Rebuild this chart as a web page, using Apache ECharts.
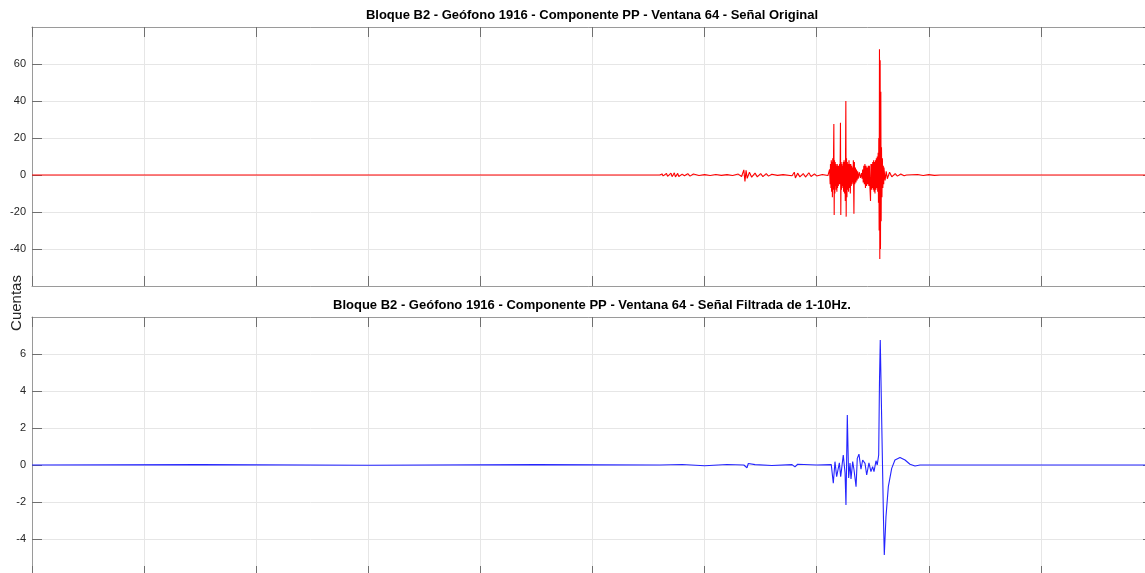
<!DOCTYPE html>
<html>
<head>
<meta charset="utf-8">
<script src="https://cdn.jsdelivr.net/npm/echarts@6/dist/echarts.min.js"></script>
<style>
    html, body { margin: 0; padding: 0; background: #fff; }
    #chart { width: 1145px; height: 573px; }
</style>
</head>
<body>
<div id="chart"></div>
<script type="text/javascript">
    // títulos y rótulos
    var tituloOriginal = "Bloque B2 - Geófono 1916 - Componente PP - Ventana 64 - Señal Original";
    var tituloFiltrada = "Bloque B2 - Geófono 1916 - Componente PP - Ventana 64 - Señal Filtrada de 1-10Hz.";
    var rotuloY = "Cuentas";

    // ejes
    var tiempoMin = 0, tiempoMax = 10, tiempoPaso = 1;
    var originalMin = -60, originalMax = 80, originalPaso = 20;
    var filtradaMin = -6, filtradaMax = 8, filtradaPaso = 2;

    // señal original [tiempo, cuentas]
    var senalOriginal = [
        [0, 0], [5.60, 0],
        [5.62, 0.6], [5.63, -0.5], [5.66, 0.8], [5.67, -0.7], [5.70, 1.0], [5.71, -0.9], [5.73, 1.2], [5.74, -1.0],
        [5.76, 0.9], [5.77, -0.8], [5.80, 0.5], [5.82, -0.4], [5.85, 0.7], [5.87, -0.6], [5.90, 0.5], [5.95, -0.3],
        [6.00, 0.2], [6.05, -0.3], [6.10, 0.3], [6.15, -0.2], [6.20, 0.2], [6.25, -0.3],
        [6.30, 0.5], [6.33, -0.8], [6.35, 2.8], [6.36, -3.5], [6.37, 2.5], [6.38, -1.8], [6.40, 1.5], [6.42, -1.2],
        [6.45, 1.0], [6.47, -1.0], [6.50, 0.8], [6.52, -0.9], [6.55, 0.7], [6.57, -0.6], [6.60, 0.4], [6.65, -0.2],
        [6.70, 0.2], [6.78, -0.4], [6.80, 1.5], [6.81, -1.6], [6.83, 1.0], [6.85, -1.0], [6.88, 0.8], [6.90, -1.1],
        [6.93, 1.2], [6.95, -0.8], [6.98, 0.6], [7.00, -0.5], [7.05, 0.3], [7.10, -0.3],
        [7.115, 3], [7.12, -5], [7.123, 6], [7.127, -7], [7.13, 8], [7.133, -9], [7.137, 7], [7.14, -12],
        [7.143, 9], [7.147, -8], [7.15, 10], [7.153, 27.6], [7.156, -21.6], [7.159, 8], [7.162, -10], [7.165, 7],
        [7.168, -6], [7.171, 6], [7.174, -8], [7.177, 5], [7.18, -9], [7.183, 6], [7.186, -7], [7.19, 5],
        [7.193, -6], [7.197, 5], [7.2, -5], [7.204, 6], [7.208, -5], [7.212, 28.3], [7.215, -21.6], [7.218, 7],
        [7.221, -8], [7.224, 6], [7.227, -7], [7.23, 5], [7.233, -6], [7.237, 7], [7.24, -9], [7.244, 8],
        [7.248, -10], [7.252, 7], [7.255, -14], [7.26, 40], [7.263, -22.5], [7.266, 9], [7.27, -12], [7.273, 7],
        [7.277, -8], [7.28, 6], [7.284, -9], [7.288, 8], [7.292, -7], [7.296, 6], [7.3, -10], [7.304, 6],
        [7.308, -6], [7.312, 5], [7.316, -5], [7.32, 4], [7.324, -4], [7.327, 8], [7.332, -21], [7.336, 7],
        [7.34, -5], [7.345, 4], [7.35, -4], [7.355, 3], [7.36, -3], [7.365, 2], [7.37, -2], [7.38, 1.5],
        [7.39, -1.5], [7.40, 1], [7.405, -2], [7.41, 3], [7.415, -4], [7.42, 5], [7.425, -5], [7.43, 6],
        [7.435, -7], [7.44, 5], [7.445, -6], [7.45, 4], [7.455, -5], [7.46, 5], [7.465, -6], [7.47, 5],
        [7.475, -7], [7.48, -14], [7.484, 6], [7.488, -8], [7.492, 6], [7.496, -7], [7.5, 7], [7.504, -8],
        [7.508, 8], [7.512, -9], [7.516, 7], [7.52, -10], [7.524, 8], [7.528, -8], [7.532, 9], [7.536, -7],
        [7.54, 10], [7.544, -9], [7.548, 12], [7.551, -15], [7.554, 20], [7.557, -30], [7.56, 68], [7.563, -45.4],
        [7.566, 62], [7.569, -40], [7.572, 45], [7.575, -25], [7.578, 15], [7.582, -12], [7.586, 9], [7.59, -7],
        [7.594, 5], [7.598, -5], [7.60, 4], [7.61, -3], [7.62, 2], [7.63, -2], [7.65, 1.5], [7.67, -1],
        [7.70, 0.8], [7.72, -0.6], [7.75, 0.5], [7.78, -0.4], [7.80, 0], [7.90, 0.3], [7.95, -0.3], [8.00, 0.2],
        [8.05, -0.2], [8.10, 0], [10, 0]
    ];

    // señal filtrada 1-10 Hz [tiempo, cuentas]
    var senalFiltrada = [
        [0, 0], [1.5, 0.02], [3.0, -0.01], [4.5, 0.02], [5.6, 0], [5.8, 0.03], [6.0, -0.04], [6.2, 0.03],
        [6.35, 0], [6.378, -0.15], [6.39, 0.08], [6.45, 0.02], [6.6, -0.03], [6.78, 0.02], [6.806, -0.1],
        [6.83, 0.04], [7.0, 0], [7.13, 0.02],
        [7.148, -0.99], [7.163, 0.18], [7.178, -0.63], [7.202, 0.12], [7.214, -0.63], [7.237, 0.54], [7.253, -0.43],
        [7.261, -2.16], [7.273, 2.7], [7.285, -0.7], [7.297, 0.1], [7.306, -0.76], [7.321, 0.18], [7.333, -0.27],
        [7.351, -1.17], [7.362, 0.36], [7.377, 0.59], [7.395, -0.23], [7.410, 0.27], [7.431, 0.09], [7.446, -0.54],
        [7.466, 0.12], [7.484, -0.36], [7.499, -0.09], [7.511, -0.36], [7.529, 0.23], [7.540, 0], [7.553, 0.54],
        [7.560, 4.5], [7.567, 6.76], [7.572, 6.8], [7.576, 6.7], [7.587, 0], [7.596, -3.0], [7.603, -4.86],
        [7.618, -2.8], [7.639, -1.17], [7.669, -0.18], [7.698, 0.27], [7.743, 0.4], [7.788, 0.27], [7.832, 0.04],
        [7.877, -0.05], [7.922, 0], [10, 0]
    ];

    var fuente = '"Liberation Sans", Arial, sans-serif';
    var colorCaja = '#9a9a9a';
    var colorGrilla = '#e6e6e6';

    function ejeX(grid, pos) {
        return {
            type: 'value', gridIndex: grid, position: pos,
            min: tiempoMin, max: tiempoMax, interval: tiempoPaso,
            axisLine: { show: true, onZero: false, lineStyle: { color: colorCaja } },
            axisTick: { show: true, inside: true, length: 10, lineStyle: { color: '#707070' } },
            axisLabel: { show: false },
            splitLine: { show: pos === 'bottom', lineStyle: { color: colorGrilla } }
        };
    }
    function ejeY(grid, pos, min, max, paso) {
        return {
            type: 'value', gridIndex: grid, position: pos,
            min: min, max: max, interval: paso,
            axisLine: { show: true, onZero: false, lineStyle: { color: colorCaja } },
            axisTick: { show: true, inside: true, length: 10, lineStyle: { color: '#707070' } },
            axisLabel: {
                show: pos === 'left', margin: 6, showMinLabel: false, showMaxLabel: false,
                color: '#262626', fontSize: 11, fontFamily: fuente
            },
            splitLine: { show: pos === 'left', lineStyle: { color: colorGrilla } }
        };
    }

    var myChart = echarts.init(document.getElementById('chart'));
    var option = {
        animation: false,
        backgroundColor: '#ffffff',
        grid: [
            { left: 32, width: 1121, top: 27, height: 259, outerBoundsMode: 'none', containLabel: false },
            { left: 32, width: 1121, top: 317, height: 259, outerBoundsMode: 'none', containLabel: false }
        ],
        xAxis: [ejeX(0, 'bottom'), ejeX(0, 'top'), ejeX(1, 'bottom'), ejeX(1, 'top')],
        yAxis: [
            ejeY(0, 'left', originalMin, originalMax, originalPaso),
            ejeY(0, 'right', originalMin, originalMax, originalPaso),
            ejeY(1, 'left', filtradaMin, filtradaMax, filtradaPaso),
            ejeY(1, 'right', filtradaMin, filtradaMax, filtradaPaso)
        ],
        graphic: [
            { type: 'text', x: 592, y: 15, style: { text: tituloOriginal, textAlign: 'center', textVerticalAlign: 'middle', font: 'bold 13px ' + fuente, fill: '#000' } },
            { type: 'text', x: 592, y: 305, style: { text: tituloFiltrada, textAlign: 'center', textVerticalAlign: 'middle', font: 'bold 13px ' + fuente, fill: '#000' } },
            { type: 'text', x: 17, y: 303, rotation: Math.PI / 2, style: { text: rotuloY, textAlign: 'center', textVerticalAlign: 'middle', font: '15px ' + fuente, fill: '#262626' } }
        ],
        series: [
            {
                type: 'line', xAxisIndex: 0, yAxisIndex: 0, data: senalOriginal,
                showSymbol: false, sampling: null, lineStyle: { color: '#ff0000', width: 1.1 }, z: 3
            },
            {
                type: 'line', xAxisIndex: 2, yAxisIndex: 2, data: senalFiltrada,
                showSymbol: false, lineStyle: { color: '#2424ff', width: 1.1 }, z: 3
            }
        ]
    };
    myChart.setOption(option);
</script>
</body>
</html>
